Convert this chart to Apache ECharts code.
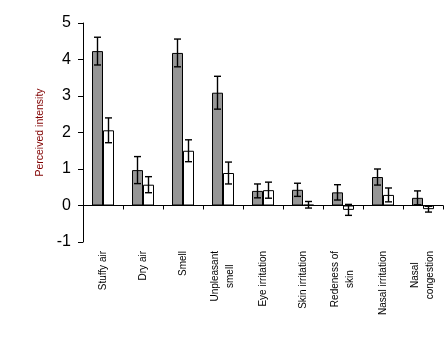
<!DOCTYPE html>
<html>
<head>
<meta charset="utf-8">
<script src="https://cdn.jsdelivr.net/npm/echarts@6/dist/echarts.min.js"></script>
<style>html,body{margin:0;padding:0;background:#fff}#c{width:445px;height:338px}</style>
</head>
<body>
<div id="c"></div>
<script>
const categories = [' Stuffy air', 'Dry air', 'Smell', 'Unpleasant\nsmell', 'Eye irritation', 'Skin irritation', 'Redeness of\nskin', 'Nasal irritation', 'Nasal\ncongestion'];
const greyValues = [4.23, 0.97, 4.18, 3.09, 0.40, 0.43, 0.36, 0.78, 0.21];
const greyErrors = [0.38, 0.37, 0.38, 0.45, 0.19, 0.18, 0.21, 0.22, 0.19];
const whiteValues = [2.06, 0.57, 1.50, 0.89, 0.42, 0.02, -0.12, 0.29, -0.10];
const whiteErrors = [0.34, 0.22, 0.30, 0.30, 0.22, 0.09, 0.15, 0.19, 0.08];
const yTicks = [-1, 0, 1, 2, 3, 4, 5];

const BAR_W = 11;
function errSeries(values, errors, side) {
  return {
    type: 'custom',
    z: 5,
    data: values.map((v, i) => [i, v - errors[i], v + errors[i]]),
    renderItem: function (params, api) {
      const lo = api.coord([api.value(0), api.value(1)]);
      const hi = api.coord([api.value(0), api.value(2)]);
      const x = lo[0] + side * BAR_W / 2;
      const cap = 3.5;
      const st = { stroke: '#000', lineWidth: 1.4 };
      return {
        type: 'group',
        children: [
          { type: 'line', shape: { x1: x, y1: lo[1], x2: x, y2: hi[1] }, style: st },
          { type: 'line', shape: { x1: x - cap, y1: lo[1], x2: x + cap, y2: lo[1] }, style: st },
          { type: 'line', shape: { x1: x - cap, y1: hi[1], x2: x + cap, y2: hi[1] }, style: st }
        ]
      };
    }
  };
}

const chart = echarts.init(document.getElementById('c'), null, { renderer: 'canvas' });
chart.setOption({
  animation: false,
  backgroundColor: '#fff',
  grid: { left: 83, right: 2, top: 23, bottom: 96, containLabel: false, outerBoundsMode: 'none' },
  xAxis: {
    type: 'category',
    data: categories,
    axisLine: { onZero: true, lineStyle: { color: '#000', width: 1 } },
    axisTick: { show: true, inside: false, length: 4, alignWithLabel: false, lineStyle: { color: '#000' } },
    axisLabel: {
      interval: 0,
      rotate: 90,
      margin: 9,
      hideOverlap: false,
      fontFamily: 'Liberation Sans, Arial, sans-serif',
      fontSize: 10,
      color: '#000',
      formatter: function (v) {
        return v.split('\n').map(s => '{a|' + s + '}').join('\n');
      },
      rich: { a: { align: 'center', fontSize: 10, lineHeight: 15, fontFamily: 'Liberation Sans, Arial, sans-serif', color: '#000' } }
    },
    splitLine: { show: false }
  },
  yAxis: {
    type: 'value',
    min: yTicks[0],
    max: yTicks[yTicks.length - 1],
    interval: 1,
    name: 'Perceived intensity',
    nameLocation: 'middle',
    nameGap: 32,
    nameTextStyle: { color: '#800000', fontSize: 10.5, fontFamily: 'Liberation Sans, Arial, sans-serif' },
    axisLine: { show: true, lineStyle: { color: '#000', width: 1 } },
    axisTick: { show: true, inside: false, length: 5, lineStyle: { color: '#000' } },
    axisLabel: { margin: 12, fontSize: 16, color: '#000', fontFamily: 'Liberation Sans, Arial, sans-serif' },
    splitLine: { show: false }
  },
  series: [
    {
      type: 'bar', data: greyValues, barWidth: BAR_W, barGap: '0%',
      itemStyle: { color: '#969696', borderColor: '#000', borderWidth: 1 }
    },
    {
      type: 'bar', data: whiteValues, barWidth: BAR_W, barGap: '0%',
      itemStyle: { color: '#fff', borderColor: '#000', borderWidth: 1 }
    },
    errSeries(greyValues, greyErrors, -1),
    errSeries(whiteValues, whiteErrors, 1)
  ]
});
</script>
</body>
</html>
